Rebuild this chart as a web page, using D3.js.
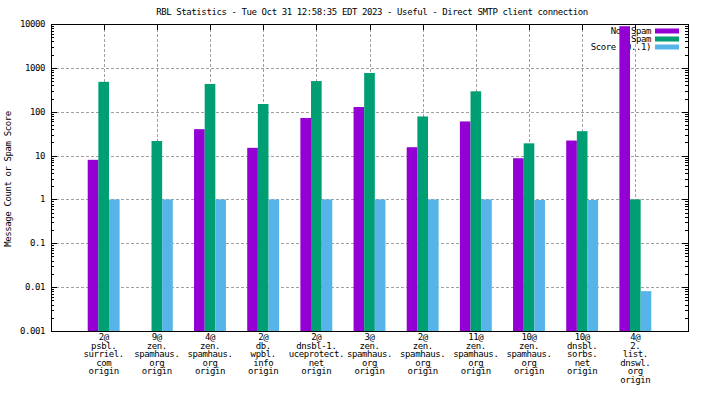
<!DOCTYPE html>
<html>
<head>
<meta charset="utf-8">
<script src="https://cdn.jsdelivr.net/npm/d3@7"></script>
<style>
body { margin: 0; background: #fff; }
text { font-family: "DejaVu Sans Mono", monospace; font-size: 9px; letter-spacing: -0.4px; fill: #000; }
</style>
</head>
<body>
<div id="graph"></div>
<script>
// chart data
var categories = [
  "2@\npsbl.\nsurriel.\ncom\norigin",
  "9@\nzen.\nspamhaus.\norg\norigin",
  "4@\nzen.\nspamhaus.\norg\norigin",
  "2@\ndb.\nwpbl.\ninfo\norigin",
  "2@\ndnsbl-1.\nuceprotect.\nnet\norigin",
  "3@\nzen.\nspamhaus.\norg\norigin",
  "2@\nzen.\nspamhaus.\norg\norigin",
  "11@\nzen.\nspamhaus.\norg\norigin",
  "10@\nzen.\nspamhaus.\norg\norigin",
  "10@\ndnsbl.\nsorbs.\nnet\norigin",
  "4@\n2.\nlist.\ndnswl.\norg\norigin"
];
var nonSpam = [8, 0, 40, 15, 72, 128, 15.5, 60, 8.7, 22, 8900];
var spam = [480, 21.5, 430, 150, 500, 765, 78, 292, 19, 36, 1];
var score = [1, 1, 1, 1, 1, 1, 1, 1, 0.97, 0.97, 0.0081];
var yTicks = [0.001, 0.01, 0.1, 1, 10, 100, 1000, 10000];
var seriesNames = ["Non Spam", "Spam", "Score (0..1)"];
var seriesColors = ["#9400d3", "#009e73", "#56b4e9"];
var title = "RBL Statistics - Tue Oct 31 12:58:35 EDT 2023 - Useful - Direct SMTP client connection";

var W = 704, H = 396;
var pLeft = 51, pRight = 688, pTop = 24, pBottom = 331;

var svg = d3.select("#graph").append("svg")
  .attr("width", W).attr("height", H);

var x = d3.scaleLinear().domain([-1, 11]).range([50.5, 688.5]);
var y = d3.scaleLog().domain([0.001, 10000]).range([pBottom, pTop]);
function px(v) { return Math.round(v) + 0.5; }

// grid
var grid = svg.append("g").attr("stroke", "#a0a0a0").attr("stroke-dasharray", "3,2").attr("stroke-width", 1);
grid.selectAll("line.v").data(categories).enter().append("line")
  .attr("x1", function(d, i) { return px(x(i)); })
  .attr("x2", function(d, i) { return px(x(i)); })
  .attr("y1", pTop).attr("y2", pBottom);
grid.selectAll("line.h").data(yTicks.slice(1, -1)).enter().append("line")
  .attr("x1", pLeft).attr("x2", pRight)
  .attr("y1", function(d) { return px(y(d)); })
  .attr("y2", function(d) { return px(y(d)); });

// legend
var leg = svg.append("g");
seriesNames.forEach(function(n, i) {
  var cy = 31 + i * 8;
  leg.append("text").attr("x", 651).attr("y", cy + 3).attr("text-anchor", "end").text(n);
  leg.append("rect").attr("x", 655).attr("y", cy - 2.5).attr("width", 24).attr("height", 5)
    .attr("fill", seriesColors[i]);
});

// bars
var bw = 0.2;
var series = [nonSpam, spam, score];
series.forEach(function(vals, s) {
  var data = vals.map(function(v, i) { return {i: i, v: v}; }).filter(function(d) { return d.v > 0; });
  svg.append("g").selectAll("rect").data(data).enter().append("rect")
    .attr("x", function(d) { return x(d.i + (s - 1) * bw - bw / 2); })
    .attr("width", x(bw) - x(0))
    .attr("y", function(d) { return Math.max(pTop, y(d.v)); })
    .attr("height", function(d) { return pBottom - Math.max(pTop, y(d.v)); })
    .attr("fill", seriesColors[s]);
});

// border and ticks
var ax = svg.append("g").attr("stroke", "#000").attr("stroke-width", 1);
var minor = [];
for (var k = 0; k < yTicks.length - 1; k++) {
  for (var m = 2; m <= 9; m++) minor.push(yTicks[k] * m);
}
function yTickLines(vals, len) {
  ax.append("g").selectAll("line").data(vals).enter().append("line")
    .attr("x1", pLeft).attr("x2", pLeft + len)
    .attr("y1", function(d) { return px(y(d)); })
    .attr("y2", function(d) { return px(y(d)); });
  ax.append("g").selectAll("line").data(vals).enter().append("line")
    .attr("x1", pRight - len).attr("x2", pRight)
    .attr("y1", function(d) { return px(y(d)); })
    .attr("y2", function(d) { return px(y(d)); });
}
yTickLines(yTicks, 6);
yTickLines(minor, 3);
ax.append("g").selectAll("line").data(categories).enter().append("line")
  .attr("x1", function(d, i) { return px(x(i)); })
  .attr("x2", function(d, i) { return px(x(i)); })
  .attr("y1", pTop).attr("y2", pTop + 6);
ax.append("rect").attr("x", pLeft + 0.5).attr("y", pTop + 0.5)
  .attr("width", pRight - pLeft).attr("height", pBottom - pTop).attr("fill", "none");

// y tick labels
svg.append("g").selectAll("text").data(yTicks).enter().append("text")
  .attr("x", 45).attr("y", function(d) { return y(d) + 3; })
  .attr("text-anchor", "end")
  .text(function(d) { return d3.format("~g")(d); });

// x labels
categories.forEach(function(c, i) {
  c.split("\n").forEach(function(line, j) {
    svg.append("text").attr("x", x(i)).attr("y", 340 + j * 8.5)
      .attr("text-anchor", "middle").text(line);
  });
});

// title and axis label
svg.append("text").attr("x", 372).attr("y", 15).attr("text-anchor", "middle").text(title);
svg.append("text").attr("transform", "translate(11,179) rotate(-90)")
  .attr("text-anchor", "middle").text("Message Count or Spam Score");
</script>
</body>
</html>
